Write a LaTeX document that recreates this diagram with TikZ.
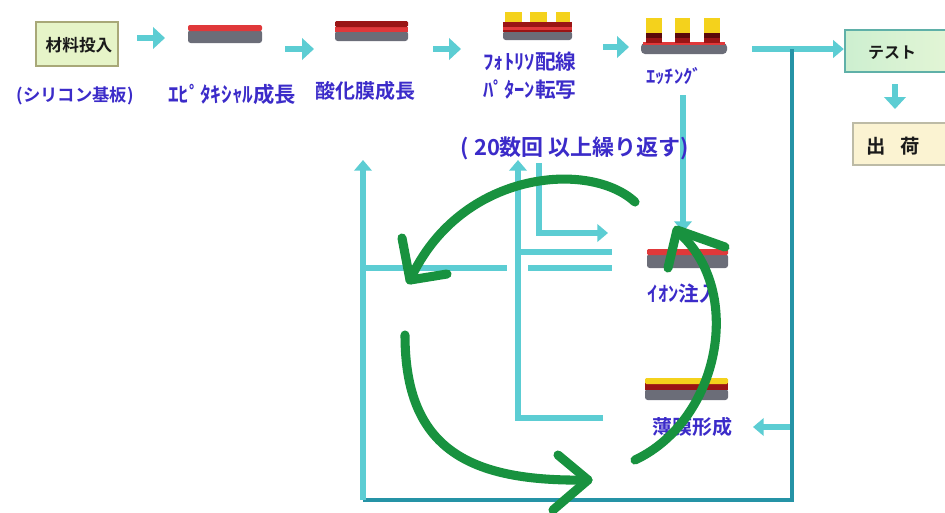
\documentclass[tikz,border=0pt]{standalone}
\usepackage{fontspec}
\newfontfamily\jp{Noto Sans CJK JP}[BoldFont={Noto Sans CJK JP Bold}]
\usetikzlibrary{arrows.meta}

\definecolor{flow}{HTML}{5CCDD3}
\definecolor{loopline}{HTML}{2593A6}
\definecolor{cycle}{HTML}{18923F}
\definecolor{label}{HTML}{3B2BC9}
\definecolor{ink}{HTML}{1A1A1A}
\definecolor{substrate}{HTML}{6B6D78}
\definecolor{epi}{HTML}{E0383A}
\definecolor{oxide}{HTML}{9A1515}
\definecolor{resist}{HTML}{F4D21C}
\definecolor{darkres}{HTML}{5A0A0A}
\definecolor{inputedge}{HTML}{A8A878}
\definecolor{inputfill}{HTML}{E6F4C8}
\definecolor{testedge}{HTML}{5FB0A8}
\definecolor{testfillL}{HTML}{CDEFD0}
\definecolor{testfillR}{HTML}{E6F6D6}
\definecolor{shipedge}{HTML}{BDBBA6}
\definecolor{shipfill}{HTML}{FBF3D2}

\tikzset{
  lab/.style={text=label, inner sep=0pt, font=\jp\bfseries\fontsize{#1}{#1}\selectfont},
  blk/.style={text=ink, inner sep=0pt, font=\jp\bfseries\fontsize{#1}{#1}\selectfont},
  flowline/.style={draw=flow, line width=4.2pt},
  steparrow/.style={flowline, line width=5pt, -{Triangle[length=9pt,width=16pt]}},
  longarrow/.style={flowline, -{Triangle[length=8pt,width=13pt]}},
  returnline/.style={draw=loopline, line width=3.2pt},
  cyclearrow/.style={draw=cycle, line width=6.8pt, line cap=round, line join=round},
  stagebox/.style={draw=#1, line width=1.8pt, inner sep=0pt},
}

\begin{document}
\begin{tikzpicture}[x=0.75pt,y=-0.75pt]
\useasboundingbox[fill=white] (0,0) rectangle (945,512);

% ---------- main line: start box ----------
\node[stagebox=inputedge, fill=inputfill, minimum width=61.5pt, minimum height=33pt] (input) at (77,44) {};
\node[blk=12.5] (inputtxt) at (79,45) {材料投入};
\node[lab=13] (sub) at (75,96) {(シリコン基板)};

% ---------- wafer stack: epitaxy ----------
\fill[substrate, rounded corners=2pt] (188,30) rectangle (262,43);
\fill[epi, rounded corners=1.5pt] (188,25) rectangle (262,31);
\node[lab=16] (epitxt) at (232,94) {ｴﾋﾟﾀｷｼｬﾙ成長};

% ---------- wafer stack: oxidation ----------
\fill[substrate, rounded corners=2pt] (335,31) rectangle (408,41);
\fill[epi] (335,27) rectangle (408,32);
\fill[oxide, rounded corners=1pt] (335,21) rectangle (408,27);
\node[lab=15] (oxtxt) at (365,91) {酸化膜成長};

% ---------- wafer stack: photolithography ----------
\fill[substrate, rounded corners=2pt] (503,31) rectangle (572,40);
\fill[oxide] (503,22) rectangle (572,32);
\fill[epi] (503,27) rectangle (572,30);
\foreach \a/\b in {505/522, 530/547, 556/570}{
  \fill[resist] (\a,12) rectangle (\b,22);
}
\node[lab=15.5] (phototxt1) at (530,62) {ﾌｫﾄﾘｿ配線};
\node[lab=15.5] (phototxt2) at (530,90) {ﾊﾟﾀｰﾝ転写};

% ---------- wafer stack: etching ----------
\fill[substrate, rounded corners=3pt] (641,43) rectangle (727,54);
\fill[epi] (643,42) rectangle (725,45);
\foreach \a/\b in {646/662, 675/690, 704/720}{
  \fill[resist] (\a,18) rectangle (\b,33);
  \fill[darkres] (\a,33) rectangle (\b,43);
  \fill[oxide] (\a,38) rectangle (\b,43);
}
\node[lab=14] (etchtxt) at (674,76) {ｴｯﾁﾝｸﾞ};

% ---------- test and shipping ----------
\node[stagebox=testedge, left color=testfillL, right color=testfillR, minimum width=90pt, minimum height=31.5pt] (test) at (905,51) {};
\node[blk=12] (testtxt) at (892,53) {テスト};
\node[stagebox=shipedge, fill=shipfill, minimum width=90pt, minimum height=31.5pt] (ship) at (913,144) {};
\node[blk=14.5] (shiptxt) at (893,146) {出\hspace{0.75em}荷};

% ---------- repeated steps: wafers ----------
\fill[substrate, rounded corners=2pt] (647,254) rectangle (728,268);
\fill[epi, rounded corners=1pt] (647,249) rectangle (728,255);
\node[lab=15.5] (iontxt) at (684,294) {ｲｵﾝ注入};

\fill[substrate, rounded corners=2pt] (645,389) rectangle (728,400);
\fill[oxide] (645,383) rectangle (728,390);
\fill[resist, rounded corners=1pt] (645,378) rectangle (728,384);
\node[lab=15] (filmtxt) at (692,427) {薄膜形成};

% ---------- flow arrows along the main line ----------
\coordinate (s1a) at (137,38);  \coordinate (s1b) at (165,38);
\coordinate (s2a) at (285,49);  \coordinate (s2b) at (314,49);
\coordinate (s3a) at (433,49);  \coordinate (s3b) at (461,49);
\coordinate (s4a) at (603,47);  \coordinate (s4b) at (629,47);
\draw[steparrow] (s1a) -- (s1b);
\draw[steparrow] (s2a) -- (s2b);
\draw[steparrow] (s3a) -- (s3b);
\draw[steparrow] (s4a) -- (s4b);

\coordinate (etchout) at (752,49);
\coordinate (branch)  at (792,49);
\coordinate (corner)  at (792,500);
\coordinate (leftlow) at (363,500);
\coordinate (leftup)  at (363,160);
\draw[longarrow, line width=5pt] (etchout) -- (test.west |- etchout);
\coordinate (ts) at (895,84);
\coordinate (te) at (895,109);
\draw[steparrow, line width=4.2pt] (ts) -- (te);
\draw[returnline] (branch) -- (corner) -- (leftlow);
\draw[longarrow] (leftlow) -- (leftup);

\coordinate (filmin) at (790,427);
\coordinate (filmend) at (753,427);
\draw[longarrow] (filmin) -- (filmend);

% ---------- internal loop lines ----------
\draw[flowline] (363,268) -- (507,268);
\draw[flowline] (528,268) -- (612,268);
\draw[flowline] (518,252) -- (612,252);
\draw[longarrow] (603,418) -- (518,418) -- (518,160);
\draw[longarrow] (539,163) -- (539,233) -- (608,233);
\draw[longarrow] (683,95) -- (683,232);

% repeat note sits over the loop lines
\node[lab=16.5] (repeat) at (575,148) {( 20数回 以上繰り返す)};

% ---------- cycle arrows ----------
\draw[cyclearrow] (635,202) .. controls (590,160) and (460,170) .. (410,280);
\draw[cyclearrow] (402,238) -- (410,280) -- (447,274);

\draw[cyclearrow] (405,335) .. controls (405,450) and (470,482) .. (588,480);
\draw[cyclearrow] (558,455) -- (588,480) -- (553,510);

\draw[cyclearrow] (635,460) .. controls (720,420) and (745,290) .. (678,232);
\draw[cyclearrow] (668,268) -- (677,230) -- (725,247);
\end{tikzpicture}
\end{document}
